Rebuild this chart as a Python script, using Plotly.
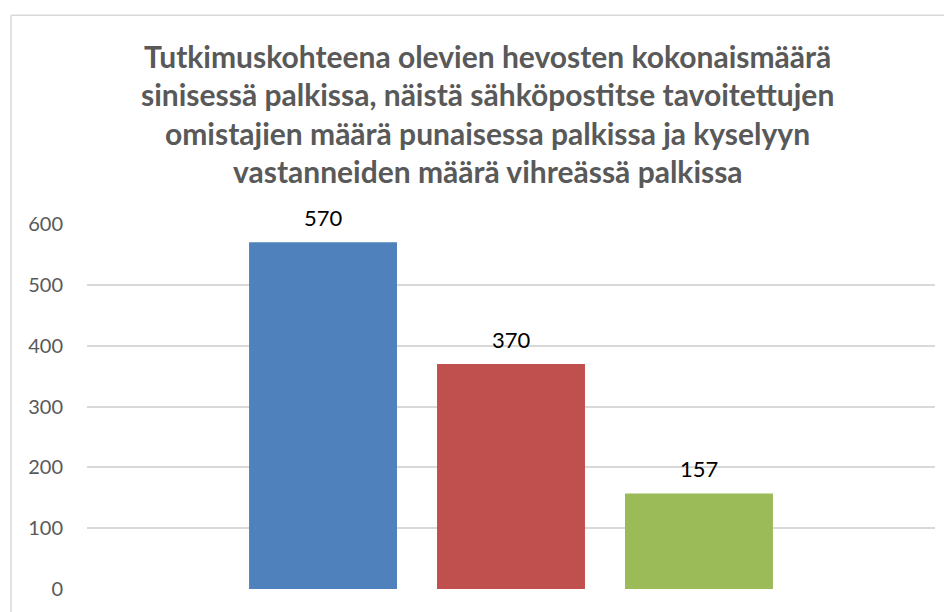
import plotly.graph_objects as go

# data
category = ["Hevoset"]
series_names = ["Hevosten kokonaismäärä", "Tavoitetut omistajat", "Kyselyyn vastanneet"]
values = [570, 370, 157]
colors = ["#4F81BD", "#C0504D", "#9BBB59"]
title_lines = [
    "Tutkimuskohteena olevien hevosten kokonaismäärä",
    "sinisessä palkissa, näistä sähköpostitse tavoitettujen",
    "omistajien määrä punaisessa palkissa ja kyselyyn",
    "vastanneiden määrä vihreässä palkissa",
]
y_ticks = [0, 100, 200, 300, 400, 500, 600]

# page body has an 8px margin, so figure pixels are screen pixels minus 8
W, H = 944, 604
L, R, T, B = 79, 17, 216, 21
plot_h = H - T - B
plot_w = W - L - R
BARGAP = 0.335
slot = plot_w * (1 - BARGAP) / len(values)


def py(px):
    # pixel row -> paper y
    return (H - B - px) / plot_h


def px_x(px):
    return (px - L) / plot_w


fig = go.Figure()
for name, v, c in zip(series_names, values, colors):
    fig.add_trace(go.Bar(
        x=category,
        y=[v],
        name=name,
        marker=dict(color=c, line_width=0),
        hoverinfo="y",
    ))

# data labels above the bars
for i, v in enumerate(values):
    fig.add_annotation(
        x=category[0], y=v,
        text=str(v),
        showarrow=False,
        xanchor="center", yanchor="bottom",
        xshift=(i - (len(values) - 1) / 2) * slot,
        yshift=9,
        font=dict(family="Lato", size=22, color="#000000"),
    )

line_y = [47, 85.5, 124, 162.5]
for txt, yy in zip(title_lines, line_y):
    fig.add_annotation(
        text="<b>" + txt + "</b>",
        x=px_x(479.5), y=py(yy),
        xref="paper", yref="paper",
        showarrow=False,
        xanchor="center", yanchor="middle",
        font=dict(family="Lato", size=30, color="#595959"),
    )

# chart border (left and top edges visible)
fig.add_shape(type="line", xref="paper", yref="paper",
              x0=px_x(3), x1=px_x(3), y0=py(6), y1=py(640),
              line=dict(color="#D9D9D9", width=1.5))
fig.add_shape(type="line", xref="paper", yref="paper",
              x0=px_x(3), x1=px_x(980), y0=py(6), y1=py(6),
              line=dict(color="#D9D9D9", width=1.5))

fig.update_layout(
    width=W, height=H,
    margin=dict(l=L, r=R, t=T, b=B),
    paper_bgcolor="white",
    plot_bgcolor="white",
    barmode="group",
    bargap=BARGAP,
    bargroupgap=0.213,
    showlegend=False,
    font=dict(family="Lato", color="#595959"),
)
fig.update_xaxes(showticklabels=False, showgrid=False, zeroline=False, showline=False)
fig.update_yaxes(
    range=[0, 600],
    tickvals=y_ticks,
    showgrid=True, gridcolor="#D9D9D9", gridwidth=1.5,
    zeroline=False, showline=False,
    tickfont=dict(family="Lato", size=20, color="#595959"),
    ticklabelstandoff=23,
)

fig.write_html("out.html")
